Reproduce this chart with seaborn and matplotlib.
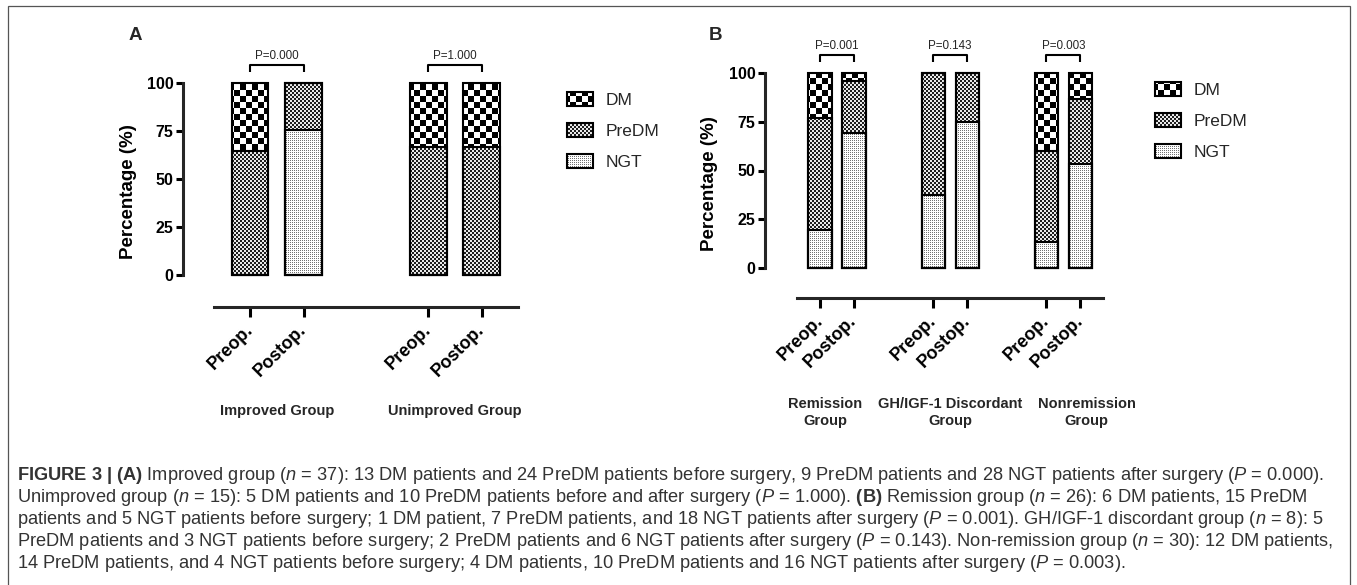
import numpy as np
import pandas as pd
import matplotlib
matplotlib.use("Agg")
import matplotlib.pyplot as plt
import seaborn as sns
from matplotlib.patches import Patch, Rectangle
from matplotlib.transforms import blended_transform_factory

# ---------------- data ----------------
timepoints = ["Preop.", "Postop."]
categories = ["DM", "PreDM", "NGT"]

groups_a = ["Improved Group", "Unimproved Group"]
dm_a = [35.1, 0.0, 33.3, 33.3]
predm_a = [64.9, 24.3, 66.7, 66.7]
ngt_a = [0.0, 75.7, 0.0, 0.0]
pvals_a = ["P=0.000", "P=1.000"]

groups_b = ["Remission\nGroup", "GH/IGF-1 Discordant\nGroup", "Nonremission\nGroup"]
dm_b = [23.1, 3.8, 0.0, 0.0, 40.0, 13.3]
predm_b = [57.7, 26.9, 62.5, 25.0, 46.7, 33.3]
ngt_b = [19.2, 69.2, 37.5, 75.0, 13.3, 53.3]
pvals_b = ["P=0.001", "P=0.143", "P=0.003"]

ytick_vals = [0, 25, 50, 75, 100]
ylabel = "Percentage (%)"

caption_lines = [
    r"$\mathbf{FIGURE\ 3\ |\ (A)}$ Improved group ($\mathit{n}$ = 37): 13 DM patients and 24 PreDM patients before surgery, 9 PreDM patients and 28 NGT patients after surgery ($\mathit{P}$ = 0.000).",
    r"Unimproved group ($\mathit{n}$ = 15): 5 DM patients and 10 PreDM patients before and after surgery ($\mathit{P}$ = 1.000). $\mathbf{(B)}$ Remission group ($\mathit{n}$ = 26): 6 DM patients, 15 PreDM",
    r"patients and 5 NGT patients before surgery; 1 DM patient, 7 PreDM patients, and 18 NGT patients after surgery ($\mathit{P}$ = 0.001). GH/IGF-1 discordant group ($\mathit{n}$ = 8): 5",
    r"PreDM patients and 3 NGT patients before surgery; 2 PreDM patients and 6 NGT patients after surgery ($\mathit{P}$ = 0.143). Non-remission group ($\mathit{n}$ = 30): 12 DM patients,",
    r"14 PreDM patients, and 4 NGT patients before surgery; 4 DM patients, 10 PreDM patients and 16 NGT patients after surgery ($\mathit{P}$ = 0.003).",
]

# ---------------- style / layout ----------------
sns.set_style("ticks")
plt.rcParams["font.family"] = ["Liberation Sans", "DejaVu Sans"]
plt.rcParams["mathtext.fontset"] = "custom"
plt.rcParams["mathtext.rm"] = "Liberation Sans"
plt.rcParams["mathtext.it"] = "Liberation Sans:italic"
plt.rcParams["mathtext.bf"] = "Liberation Sans:bold"

W, H, DPI = 1357, 585, 100
GROUP_STEP = 3.33
BAR_WIDTH = 0.686
AXIS_PAD = 0.67
EDGE_LW = 1.5
SPINE_LW = 2.2

fig = plt.figure(figsize=(W / DPI, H / DPI), dpi=DPI)
fig.patch.set_facecolor("white")

# textures (figure-pixel aligned)
yy, xx = np.mgrid[0:H, 0:W]


def _rgb(g):
    return np.repeat(g[..., None], 3, axis=2)


TEX = {
    "DM": _rgb(np.where(((xx // 6) + (yy // 6)) % 2 == 0, 0.0, 1.0)),
    "PreDM": _rgb(np.where(((xx // 2) + (yy // 2)) % 2 == 0, 0.12, 0.92)),
    "NGT": _rgb(np.where((xx % 2 == 0) & (yy % 2 == 0), 0.45, 1.0)),
}
TEX_Z = {"DM": -3.0, "PreDM": -2.9, "NGT": -2.8}


def texture(patch, name):
    im = fig.figimage(TEX[name], xo=0, yo=0, origin="upper", zorder=TEX_Z[name])
    im.set_clip_path(patch)


def px_rect(left, right, top, bottom):
    return [left / W, (H - bottom) / H, (right - left) / W, (bottom - top) / H]


def draw_panel(ax, groups, dm, predm, ngt, pvals, xlim, offset_pt, label_y,
               label_offsets, legend_anchor, letter, letter_xy):
    ng = len(groups)
    pos = np.array([g * GROUP_STEP + i for g in range(ng) for i in range(2)])
    dm, predm, ngt = (np.asarray(v, float) for v in (dm, predm, ngt))
    layers = [("DM", dm + predm + ngt), ("PreDM", predm + ngt), ("NGT", ngt)]
    for name, tops in layers:
        n0 = len(ax.patches)
        df = pd.DataFrame({"pos": pos, "pct": tops})
        sns.barplot(data=df, x="pos", y="pct", native_scale=True,
                    width=BAR_WIDTH, errorbar=None, ax=ax)
        for p in ax.patches[n0:]:
            p.set_facecolor("none")
            p.set_edgecolor("black")
            p.set_linewidth(EDGE_LW)
            p.set_clip_on(False)
            texture(p, name)

    ax.set_facecolor("none")
    ax.set_xlim(*xlim)
    ax.set_ylim(0, 100)
    ax.tick_params(axis="y", length=5, width=SPINE_LW, pad=2, color="black", labelcolor="black")
    ax.tick_params(axis="x", length=7, width=SPINE_LW, pad=8, color="black", labelcolor="black")
    ax.set_yticks(ytick_vals)
    ax.set_yticklabels([str(v) for v in ytick_vals])
    ax.set_xticks(pos)
    ax.set_xticklabels(timepoints * ng)
    for s in ("top", "right"):
        ax.spines[s].set_visible(False)
    ax.spines["left"].set_linewidth(SPINE_LW)
    ax.spines["bottom"].set_linewidth(SPINE_LW)
    ax.spines["bottom"].set_position(("outward", offset_pt))
    ax.spines["bottom"].set_bounds(pos[0] - AXIS_PAD, pos[-1] + AXIS_PAD)
    ax.set_xlabel("")
    ax.set_ylabel(ylabel, fontweight="bold", fontsize=13.5, color="black")
    ax.yaxis.label.set_va("center")
    ax.yaxis.set_label_coords(-0.164, 0.435)

    # p-value brackets
    for g, ptxt in enumerate(pvals):
        x0, x1 = pos[2 * g], pos[2 * g + 1]
        ax.plot([x0, x0, x1, x1], [105.8, 109.5, 109.5, 105.8], color="black",
                lw=1.5, clip_on=False, solid_capstyle="butt")
        ax.text((x0 + x1) / 2, 114.2, ptxt, ha="center", va="center", fontsize=8.4)

    # group labels
    tr = blended_transform_factory(ax.transData, fig.transFigure)
    for g, lab in enumerate(groups):
        cx = (pos[2 * g] + pos[2 * g + 1]) / 2 + label_offsets[g]
        ax.text(cx, label_y, lab, transform=tr, ha="center", va="center",
                fontweight="bold", fontsize=10.5, linespacing=1.3)

    # legend
    handles = [Patch(facecolor="none", edgecolor="black", linewidth=EDGE_LW, label=c)
               for c in categories]
    leg = ax.legend(handles=handles, loc="upper left", bbox_to_anchor=legend_anchor,
                    bbox_transform=fig.transFigure, frameon=False, fontsize=12.5,
                    handlelength=1.5, handleheight=0.86, handletextpad=0.75,
                    labelspacing=0.86, borderpad=0, borderaxespad=0)

    fig.text(letter_xy[0] / W, 1 - letter_xy[1] / H, letter, fontweight="bold",
             fontsize=13.5, ha="center", va="center")
    return leg


def style_ticklabels(ax):
    for lab in ax.get_yticklabels():
        lab.set_fontweight("bold")
        lab.set_fontsize(11.5)
    for lab in ax.get_xticklabels():
        lab.set_fontweight("bold")
        lab.set_fontsize(13)
        lab.set_rotation(45)
        lab.set_ha("right")
        lab.set_va("center")
        lab.set_rotation_mode("anchor")


ax_a = fig.add_axes(px_rect(183, 517.7, 83.3, 275))
ax_b = fig.add_axes(px_rect(765, 1103.6, 73.3, 267.7))

leg_a = draw_panel(ax_a, groups_a, dm_a, predm_a, ngt_a, pvals_a,
                   xlim=(-1.252, 5.0), offset_pt=22.8, label_y=1 - 411 / H,
                   label_offsets=[0.0, 0.0],
                   legend_anchor=(567 / W, 1 - 92 / H), letter="A", letter_xy=(135, 36))
leg_b = draw_panel(ax_b, groups_b, dm_b, predm_b, ngt_b, pvals_b,
                   xlim=(-1.618, 8.34), offset_pt=21.6, label_y=1 - 412.5 / H,
                   label_offsets=[-0.35, 0.0, 0.68],
                   legend_anchor=(1155 / W, 1 - 82 / H), letter="B", letter_xy=(716, 36))

# outer frame
fig.add_artist(Rectangle((7.5 / W, -0.05), (1350 - 7.5) / W, 1.05 - 6 / H,
                         transform=fig.transFigure, fill=False,
                         edgecolor="#555555", linewidth=0.9))

# caption
cap_texts = []
for i, line in enumerate(caption_lines):
    t = fig.text(17 / W, 1 - (475 + 22 * i) / H, line, ha="left", va="center",
                 fontsize=12, color="#333333")
    cap_texts.append(t)

fig.canvas.draw()
renderer = fig.canvas.get_renderer()
w0 = cap_texts[0].get_window_extent(renderer).width
fs = 12 * 1301 / w0
for t in cap_texts:
    t.set_fontsize(fs)

for ax in (ax_a, ax_b):
    style_ticklabels(ax)
fig.canvas.draw()

# legend textures (legend geometry is known after a draw)
for leg in (leg_a, leg_b):
    for p, name in zip(leg.get_patches(), categories):
        texture(p, name)

fig.savefig("out.png", dpi=DPI, facecolor="white")
